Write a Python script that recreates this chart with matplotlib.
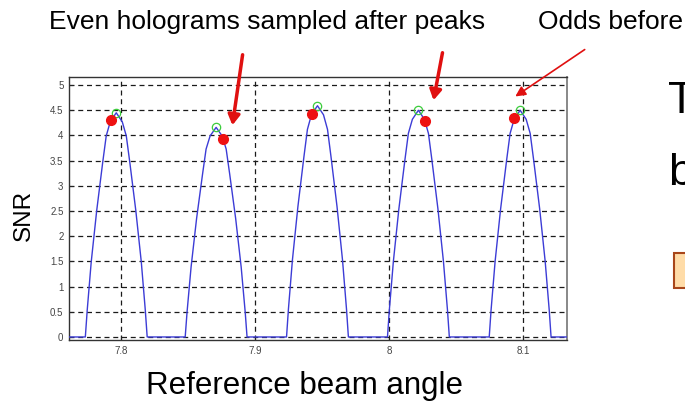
import matplotlib
matplotlib.use('Agg')
import matplotlib.pyplot as plt
from matplotlib.patches import Rectangle, FancyArrowPatch

# SNR vs reference beam angle, one block of readings per hologram peak
angle_1 = [7.7732, 7.7746, 7.7776, 7.7817, 7.7862, 7.7888, 7.7918, 7.7963,
           7.8008, 7.8038, 7.8064, 7.8109, 7.8150, 7.8180, 7.8194]
snr_1 = [0, 0.53, 1.49, 2.51, 3.47, 3.99, 4.27, 4.45, 4.27, 3.99, 3.47, 2.51, 1.49, 0.53, 0]

angle_2 = [7.8478, 7.8492, 7.8522, 7.8563, 7.8608, 7.8634, 7.8664, 7.8709,
           7.8754, 7.8784, 7.8810, 7.8855, 7.8896, 7.8926, 7.8940]
snr_2 = [0, 0.50, 1.39, 2.35, 3.24, 3.73, 3.99, 4.16, 3.99, 3.73, 3.24, 2.35, 1.39, 0.50, 0]

angle_3 = [7.9235, 7.9249, 7.9279, 7.9320, 7.9365, 7.9391, 7.9421, 7.9466,
           7.9511, 7.9541, 7.9567, 7.9612, 7.9653, 7.9683, 7.9697]
snr_3 = [0, 0.55, 1.53, 2.59, 3.58, 4.12, 4.41, 4.59, 4.41, 4.12, 3.58, 2.59, 1.53, 0.55, 0]

angle_4 = [7.9989, 8.0003, 8.0033, 8.0074, 8.0119, 8.0145, 8.0175, 8.0220,
           8.0265, 8.0295, 8.0321, 8.0366, 8.0407, 8.0437, 8.0451]
snr_4 = [0, 0.54, 1.50, 2.54, 3.51, 4.04, 4.32, 4.50, 4.32, 4.04, 3.51, 2.54, 1.50, 0.54, 0]

angle_5 = [8.0749, 8.0763, 8.0793, 8.0834, 8.0879, 8.0905, 8.0935, 8.0980,
           8.1025, 8.1055, 8.1081, 8.1126, 8.1167, 8.1197, 8.1211]
snr_5 = [0, 0.54, 1.50, 2.54, 3.51, 4.04, 4.32, 4.50, 4.32, 4.04, 3.51, 2.54, 1.50, 0.54, 0]

# scan range (SNR is zero outside the peaks)
angle_start = 7.761
angle_end = 8.133

# true peaks (green) and where the holograms were actually recorded (red)
peak_angle = [7.7963, 7.8709, 7.9466, 8.0220, 8.0980]
peak_snr = [4.45, 4.16, 4.59, 4.50, 4.50]
sample_angle = [7.7925, 7.8763, 7.9423, 8.0269, 8.0933]
sample_snr = [4.31, 3.93, 4.43, 4.28, 4.34]

xticks = [7.8, 7.9, 8.0, 8.1]
xtick_labels = ['7.8', '7.9', '8', '8.1']
yticks = [0, 0.5, 1, 1.5, 2, 2.5, 3, 3.5, 4, 4.5, 5]
ytick_labels = ['0', '0.5', '1', '1.5', '2', '2.5', '3', '3.5', '4', '4.5', '5']

angle = [angle_start] + angle_1 + angle_2 + angle_3 + angle_4 + angle_5 + [angle_end]
snr = [0] + snr_1 + snr_2 + snr_3 + snr_4 + snr_5 + [0]

plt.rcParams['font.family'] = 'Liberation Sans'

W, H = 685, 413
fig = plt.figure(figsize=(W / 100, H / 100), dpi=100)
fig.patch.set_facecolor('white')

ax = fig.add_axes([69 / W, 1 - 340 / H, (567 - 69) / W, (340 - 77) / H])
ax.plot(angle, snr, color='#3c3cd6', lw=1.0, zorder=3)
ax.plot(peak_angle, peak_snr, 'o', mfc='none', mec='#3ccc3c', ms=6, mew=0.9, zorder=4)
ax.plot(sample_angle, sample_snr, 'o', color='#ee1111', ms=7, zorder=5)

ax.set_xlim(angle_start, angle_end)
ax.set_ylim(-0.06, 5.16)
ax.set_xticks(xticks)
ax.set_xticklabels(xtick_labels)
ax.set_yticks(yticks)
ax.set_yticklabels(ytick_labels)
ax.tick_params(direction='in', length=3, width=0.8, labelsize=7, colors='#222',
               labelcolor='#444', pad=4)
ax.grid(True, color='#1a1a1a', linestyle=(0, (4, 3)), linewidth=0.9)
for side in ['left', 'bottom', 'top']:
    ax.spines[side].set_color('#333')
    ax.spines[side].set_linewidth(1.0)
ax.spines['right'].set_color('#888')
ax.spines['right'].set_linewidth(1.4)

fig.text(24 / W, 1 - 215 / H, 'SNR', rotation=90, ha='center', va='center', fontsize=17.5)
fig.text(146 / W, 1 - 386 / H, 'Reference beam angle', ha='left', va='center', fontsize=22.5)
fig.text(49 / W, 1 - 22 / H, 'Even holograms sampled after peaks', ha='left',
         va='center', fontsize=19)
fig.text(538 / W, 1 - 22 / H, 'Odds before', ha='left', va='center', fontsize=19)

# slide text cut off at the right edge
fig.text(668 / W, 1 - 113 / H, 'T', ha='left', va='baseline', fontsize=32)
fig.text(668 / W, 1 - 185 / H, 'b', ha='left', va='baseline', fontsize=32)
fig.patches.append(Rectangle((674 / W, 1 - 288 / H), 30 / W, 35 / H,
                             transform=fig.transFigure, facecolor='#ffdca8',
                             edgecolor='#a8461a', lw=1.5))

# red arrows pointing at the sampled points
fig.add_artist(FancyArrowPatch(
    (243 / W, 1 - 52 / H), (232 / W, 1 - 128 / H), transform=fig.transFigure,
    arrowstyle='-|>,head_length=6,head_width=3.5', color='#e01010', lw=2.5))
fig.add_artist(FancyArrowPatch(
    (443 / W, 1 - 50 / H), (433 / W, 1 - 103 / H), transform=fig.transFigure,
    arrowstyle='-|>,head_length=6,head_width=3.5', color='#e01010', lw=2.5))
fig.add_artist(FancyArrowPatch(
    (587 / W, 1 - 48 / H), (513 / W, 1 - 98 / H), transform=fig.transFigure,
    arrowstyle='-|>,head_length=6,head_width=3', color='#e01010', lw=1.2))

fig.savefig('out.png', dpi=100)
